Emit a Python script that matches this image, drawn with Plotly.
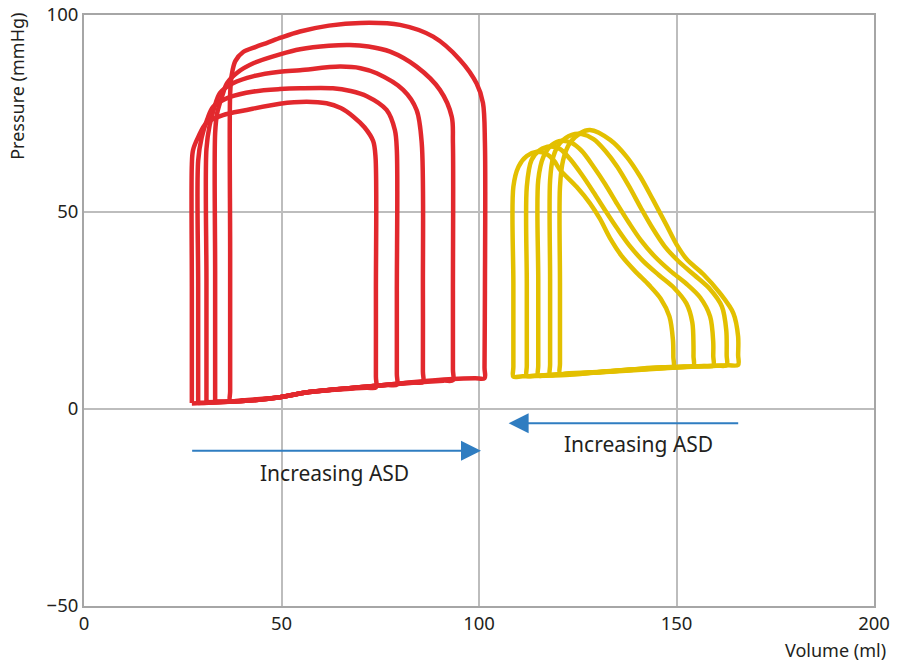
import plotly.graph_objects as go

# Left ventricle pressure-volume loops (red), largest to smallest
lv1_vol = [37.0, 37.0, 37.0, 37.0, 37.4, 38.3, 40.3, 43.5, 46.5, 50.0, 54.7, 62.0, 70.0, 80.0, 88.4, 95.2, 99.4, 101.0, 101.5, 101.5, 101.4, 101.4, 99.0, 93.4, 80.0, 72.0, 57.0, 49.6, 40.0, 39.0, 37.0]
lv1_pres = [2.0, 4.5, 40.0, 80.0, 84.8, 88.3, 90.6, 91.9, 93.0, 94.3, 95.8, 97.3, 98.0, 97.5, 94.5, 88.6, 82.6, 77.7, 67.5, 30.0, 10.5, 7.8, 7.8, 7.6, 6.5, 5.7, 4.3, 3.0, 2.2, 2.1, 2.0]

lv2_vol = [33.2, 33.2, 33.2, 33.2, 33.7, 35.0, 36.2, 38.7, 43.0, 49.6, 54.7, 62.0, 67.3, 72.0, 77.5, 84.2, 90.1, 93.1, 93.4, 93.4, 93.4, 93.4, 91.0, 80.0, 72.0, 57.0, 49.6, 40.0, 35.5, 33.2]
lv2_pres = [2.0, 4.5, 35.0, 70.0, 75.0, 79.5, 82.7, 85.3, 87.8, 90.0, 91.3, 92.2, 92.4, 92.0, 90.7, 86.9, 81.0, 74.2, 67.5, 30.0, 10.0, 7.3, 7.2, 6.4, 5.7, 4.3, 3.0, 2.0, 1.9, 1.9]

lv3_vol = [31.0, 31.0, 31.0, 31.0, 31.8, 33.0, 34.4, 37.7, 43.0, 49.6, 54.7, 64.8, 70.0, 74.1, 80.8, 84.2, 85.5, 85.8, 85.8, 85.8, 83.4, 72.0, 57.0, 49.6, 40.0, 33.3, 31.0]
lv3_pres = [1.8, 4.3, 33.0, 66.0, 72.0, 76.5, 80.2, 82.7, 84.5, 85.6, 86.0, 86.9, 86.5, 85.2, 81.0, 75.9, 67.5, 30.0, 9.5, 6.8, 6.7, 5.7, 4.3, 3.0, 2.0, 1.8, 1.7]

lv4_vol = [28.9, 28.9, 28.9, 28.9, 29.8, 31.2, 32.7, 37.0, 43.0, 49.6, 54.7, 63.0, 67.5, 71.6, 76.6, 78.7, 79.2, 79.2, 79.2, 79.2, 76.8, 72.0, 57.0, 49.6, 40.0, 31.2, 28.9]
lv4_pres = [1.6, 4.1, 32.0, 63.0, 69.0, 73.5, 76.7, 79.2, 80.6, 81.2, 81.4, 81.4, 80.7, 79.4, 75.9, 70.8, 65.7, 30.0, 8.9, 6.2, 6.1, 5.7, 4.3, 3.0, 2.0, 1.6, 1.5]

lv5_vol = [27.3, 27.3, 27.3, 27.3, 27.6, 28.9, 31.0, 35.2, 41.2, 49.6, 56.4, 61.4, 65.0, 68.2, 71.0, 73.2, 73.8, 73.9, 73.9, 73.9, 71.5, 57.0, 49.6, 40.0, 29.6, 27.3]
lv5_pres = [1.5, 4.0, 31.0, 62.0, 65.7, 69.0, 72.6, 74.6, 75.9, 77.5, 78.0, 77.6, 76.4, 74.2, 71.5, 68.0, 64.0, 30.0, 8.2, 5.5, 5.4, 4.3, 3.0, 2.0, 1.5, 1.4]

# Right ventricle pressure-volume loops (yellow), smallest to largest
rv1_vol = [108.7, 108.7, 108.7, 108.7, 110.0, 112.1, 114.6, 117.0, 119.0, 120.5, 124.7, 128.1, 130.6, 133.2, 136.0, 139.5, 143.0, 146.0, 148.2, 149.1, 149.2, 149.2, 146.8, 141.5, 130.0, 122.0, 111.0, 108.7]
rv1_pres = [8.2, 10.7, 32.0, 56.4, 61.5, 64.2, 65.3, 64.8, 63.0, 60.7, 56.4, 52.2, 48.3, 43.3, 39.0, 35.0, 31.5, 28.0, 23.5, 17.5, 13.2, 10.7, 10.6, 10.3, 9.3, 8.6, 8.3, 8.2]

rv2_vol = [112.1, 112.1, 112.1, 112.1, 113.3, 115.4, 118.0, 120.5, 123.0, 126.0, 129.0, 132.0, 135.0, 138.0, 141.5, 145.5, 149.5, 152.5, 154.0, 154.3, 154.3, 154.3, 151.9, 145.0, 135.0, 125.0, 114.4, 112.1]
rv2_pres = [8.4, 10.9, 32.0, 56.4, 63.2, 65.7, 66.6, 66.0, 63.5, 59.5, 55.0, 50.3, 45.8, 41.6, 37.6, 34.0, 30.6, 26.8, 22.0, 16.0, 13.4, 10.9, 10.8, 10.5, 9.8, 9.0, 8.5, 8.4]

rv3_vol = [115.0, 115.0, 115.0, 115.0, 116.3, 118.4, 120.9, 123.5, 126.0, 129.0, 132.0, 135.0, 138.0, 141.0, 144.5, 148.5, 152.5, 156.0, 158.5, 159.3, 159.3, 159.3, 156.9, 150.0, 140.0, 128.0, 117.3, 115.0]
rv3_pres = [8.5, 11.0, 33.0, 58.1, 64.0, 67.0, 68.1, 67.5, 65.5, 61.5, 57.0, 52.0, 47.2, 42.8, 38.7, 35.0, 31.8, 28.3, 23.5, 17.0, 13.5, 11.0, 10.9, 10.6, 10.0, 9.2, 8.6, 8.5]

rv4_vol = [118.0, 118.0, 118.0, 118.0, 118.8, 120.5, 123.5, 126.0, 129.0, 132.0, 135.0, 138.0, 141.0, 144.0, 147.0, 150.5, 154.5, 158.5, 161.5, 162.6, 162.7, 162.7, 160.3, 155.0, 145.0, 132.0, 120.3, 118.0]
rv4_pres = [8.7, 11.2, 33.0, 58.1, 64.0, 67.5, 69.6, 69.8, 68.5, 65.5, 61.5, 56.5, 51.0, 45.8, 41.3, 37.5, 34.0, 30.4, 26.0, 20.0, 13.6, 11.1, 11.0, 10.8, 10.2, 9.4, 8.8, 8.7]

rv5_vol = [120.5, 120.5, 120.5, 120.5, 121.3, 123.0, 125.6, 128.1, 133.2, 137.4, 140.8, 144.1, 147.5, 150.0, 152.6, 156.8, 161.0, 164.4, 165.6, 165.6, 165.6, 163.2, 160.0, 150.0, 140.0, 130.0, 122.8, 120.5]
rv5_pres = [9.0, 11.5, 32.0, 56.4, 63.2, 67.5, 70.0, 70.8, 68.3, 64.0, 59.0, 53.0, 46.6, 41.8, 38.0, 34.2, 29.4, 24.3, 18.4, 13.7, 11.2, 11.1, 11.0, 10.6, 10.0, 9.4, 9.1, 9.0]

lv_loops = [(lv1_vol, lv1_pres), (lv2_vol, lv2_pres), (lv3_vol, lv3_pres),
            (lv4_vol, lv4_pres), (lv5_vol, lv5_pres)]
rv_loops = [(rv1_vol, rv1_pres), (rv2_vol, rv2_pres), (rv3_vol, rv3_pres),
            (rv4_vol, rv4_pres), (rv5_vol, rv5_pres)]

# Arrow endpoints (volume, pressure) and labels
lv_arrow_from = (27.0, -10.6)
lv_arrow_to = (100.5, -10.6)
rv_arrow_from = (166.0, -3.6)
rv_arrow_to = (107.5, -3.6)
lv_label_pos = (63.5, -16.2)
rv_label_pos = (140.5, -8.8)
arrow_label = "Increasing ASD"

x_ticks = [0, 50, 100, 150, 200]
y_ticks = [-50, 0, 50, 100]

RED = "#E2282D"
YELLOW = "#E3C000"
BLUE = "#2F7DC1"
FONT = "Noto Sans"
TEXT = "#231F20"

fig = go.Figure()

for vol, pres in lv_loops:
    fig.add_trace(go.Scatter(x=vol, y=pres, mode="lines",
                             line=dict(color=RED, width=4.5, shape="spline", smoothing=0.9),
                             hoverinfo="skip", showlegend=False))
for vol, pres in rv_loops:
    fig.add_trace(go.Scatter(x=vol, y=pres, mode="lines",
                             line=dict(color=YELLOW, width=4.5, shape="spline", smoothing=0.9),
                             hoverinfo="skip", showlegend=False))

annotations = []
for start, end in [(lv_arrow_from, lv_arrow_to), (rv_arrow_from, rv_arrow_to)]:
    annotations.append(dict(x=end[0], y=end[1], ax=start[0], ay=start[1],
                            xref="x", yref="y", axref="x", ayref="y",
                            text="", showarrow=True, arrowhead=2, arrowsize=2,
                            arrowwidth=2, arrowcolor=BLUE))
for pos in [lv_label_pos, rv_label_pos]:
    annotations.append(dict(x=pos[0], y=pos[1], xref="x", yref="y", text=arrow_label,
                            showarrow=False, font=dict(family=FONT, size=21, color=TEXT)))

annotations.append(dict(x=-0.085, y=0.88, xref="paper", yref="paper",
                        text="Pressure (mmHg)", textangle=-90, showarrow=False,
                        xanchor="center", yanchor="middle",
                        font=dict(family=FONT, size=18, color=TEXT)))
annotations.append(dict(x=1.018, y=-0.075, xref="paper", yref="paper",
                        text="Volume (ml)", showarrow=False,
                        xanchor="right", yanchor="middle",
                        font=dict(family=FONT, size=18, color=TEXT)))

axis_common = dict(showgrid=True, gridcolor="#BDBDBD", gridwidth=1.5,
                   showline=True, linecolor="#A6A6A6", linewidth=2, mirror=True,
                   zeroline=True, zerolinecolor="#BDBDBD", zerolinewidth=1.5,
                   automargin=False,
                   ticks="", tickfont=dict(family=FONT, size=18.5, color=TEXT))

fig.update_layout(
    width=897, height=664,
    margin=dict(l=84, r=23, t=15, b=58, autoexpand=False),
    paper_bgcolor="white", plot_bgcolor="white",
    xaxis=dict(range=[0, 200], tickvals=x_ticks, **axis_common),
    yaxis=dict(range=[-50, 100], tickvals=y_ticks, **axis_common),
    annotations=annotations,
)

fig.write_html("out.html")
